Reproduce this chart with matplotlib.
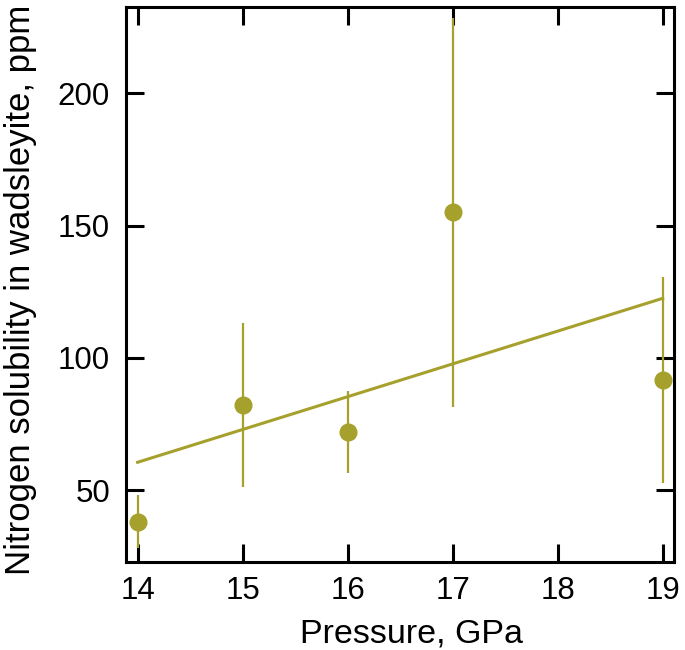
import matplotlib
matplotlib.use("Agg")
import matplotlib.pyplot as plt
import numpy as np

plt.rcParams['font.family'] = ['Liberation Sans', 'DejaVu Sans']

pressure = [14, 15, 16, 17, 19]
solubility = [38, 82, 72, 155, 91.5]
err_low = [10, 31, 15.5, 73.5, 39]
err_high = [10, 31, 15.5, 73.5, 39]
fit_x = [14, 19]
fit_y = [60.5, 122.5]

color = '#a6a02c'

fig = plt.figure(figsize=(6.85, 6.5), dpi=100)
ax = fig.add_axes([0.184, 0.1354, 0.8, 0.8536])

ax.plot(fit_x, fit_y, color=color, lw=2.2, zorder=2)
ax.errorbar(pressure, solubility, yerr=[err_low, err_high], fmt='o', color=color,
            ms=12, elinewidth=1.6, capsize=0, zorder=3)

ax.set_xlim(13.89, 19.108)
ax.set_ylim(22.8, 232.6)
ax.set_xticks([14, 15, 16, 17, 18, 19])
ax.set_yticks([50, 100, 150, 200])
ax.tick_params(direction='in', length=13, width=2.2, labelsize=22.5, top=True, right=True)
ax.tick_params(axis='x', pad=10)
ax.tick_params(axis='y', pad=11.5)
for s in ax.spines.values():
    s.set_linewidth(2.2)
ax.set_xlabel('Pressure, GPa', fontsize=24.5, labelpad=9)
ax.xaxis.label.set_x(0.521)
ax.set_ylabel('Nitrogen solubility in wadsleyite, ppm', fontsize=25, labelpad=15)
ax.yaxis.label.set_y(0.49)

fig.savefig('out.png', dpi=100)
